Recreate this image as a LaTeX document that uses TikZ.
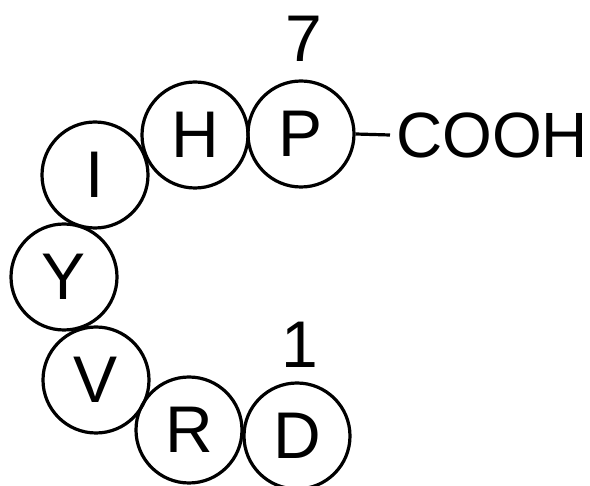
\documentclass[tikz,border=0pt]{standalone}
\usepackage{fontspec}
\setmainfont{Liberation Sans}
\begin{document}
\begin{tikzpicture}[x=1pt,y=-1pt,
  res/.style={draw,circle,line width=3.2pt,minimum size=106pt,inner sep=0pt,font=\fontsize{66}{70}\selectfont},
  lbl/.style={inner sep=0pt,font=\fontsize{66}{70}\selectfont}]
\useasboundingbox (0,0) rectangle (590,486);
\node[res] (P) at (301,134) {P};
\node[res] (H) at (195,135) {H};
\node[res] (I) at (95,175) {I};
\node[res] (Y) at (64,277) {Y};
\node[res] (V) at (96,380) {V};
\node[res] (R) at (189,430) {R};
\node[res] (D) at (297,436) {D};
\node[lbl] (n7) at (304,39) {7};
\node[lbl] (n1) at (300,345) {1};
\node[lbl,anchor=west,font=\fontsize{64}{68}\selectfont] (cooh) at (396,135) {COOH};
\draw[line width=3.2pt] (P.east) -- ([xshift=-6pt]cooh.west);
\end{tikzpicture}
\end{document}
